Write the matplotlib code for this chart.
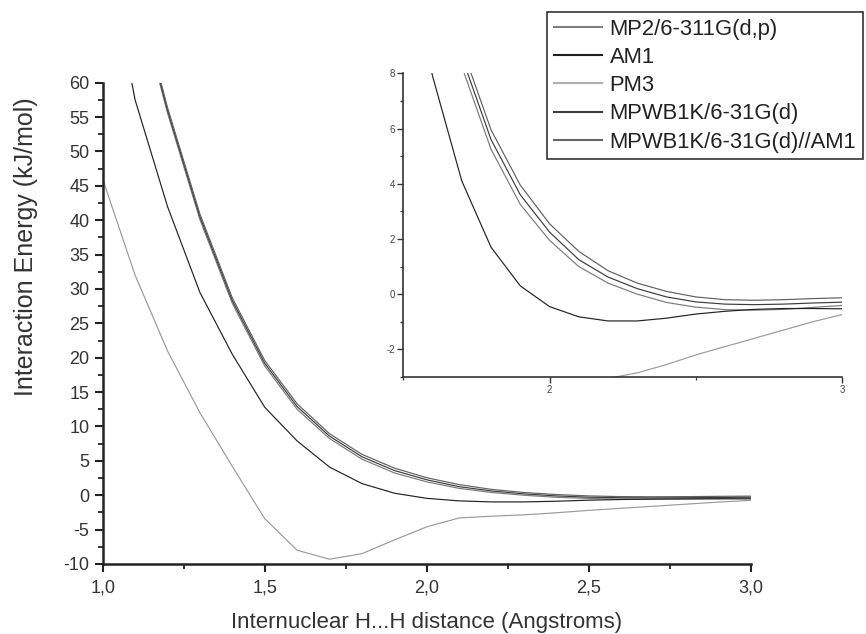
import matplotlib
matplotlib.use("Agg")
import matplotlib.pyplot as plt
from matplotlib.ticker import MultipleLocator, FuncFormatter

plt.rcParams['font.family'] = ['Liberation Sans', 'DejaVu Sans']
plt.rcParams['axes.unicode_minus'] = False

# ---- data ----
x = [1.0, 1.1, 1.2, 1.3, 1.4, 1.5, 1.6, 1.7, 1.8, 1.9, 2.0,
     2.1, 2.2, 2.3, 2.4, 2.5, 2.6, 2.7, 2.8, 2.9, 3.0]

mp2 = [99.0, 73.5, 55.6, 40.1, 27.9, 18.8, 12.5, 8.25, 5.25, 3.25, 1.95,
       1.0, 0.4, 0.0, -0.3, -0.47, -0.56, -0.58, -0.55, -0.48, -0.41]
am1 = [82.0, 57.5, 42.0, 29.5, 20.5, 12.8, 7.9, 4.1, 1.7, 0.3, -0.45,
       -0.82, -0.97, -0.97, -0.87, -0.72, -0.62, -0.55, -0.52, -0.52, -0.53]
pm3 = [46.0, 32.0, 21.0, 12.0, 4.2, -3.4, -8.0, -9.3, -8.5, -6.5, -4.6,
       -3.3, -3.05, -2.85, -2.55, -2.2, -1.9, -1.6, -1.3, -1.0, -0.74]
mpwb1k = [100.0, 74.0, 56.0, 40.5, 28.3, 19.2, 12.9, 8.6, 5.6, 3.6, 2.25,
          1.25, 0.62, 0.2, -0.1, -0.28, -0.36, -0.38, -0.36, -0.32, -0.29]
mpwb1k_am1 = [101.0, 74.5, 56.4, 40.9, 28.7, 19.6, 13.3, 8.95, 5.95, 3.95, 2.55,
              1.55, 0.85, 0.4, 0.1, -0.1, -0.2, -0.22, -0.2, -0.16, -0.13]

labels = ["MP2/6-311G(d,p)", "AM1", "PM3", "MPWB1K/6-31G(d)", "MPWB1K/6-31G(d)//AM1"]
series = [mp2, am1, pm3, mpwb1k, mpwb1k_am1]
colors = ["#7a7a7a", "#222222", "#9a9a9a", "#3c3c3c", "#606060"]
legend_colors = ["#808080", "#1e1e1e", "#b0b0b0", "#3c3c3c", "#666666"]

# ---- figure ----
W, H = 866, 634
fig = plt.figure(figsize=(W / 100, H / 100), dpi=100)

def fx(p):
    return p / W

def fy(p):
    return 1 - p / H

ax = fig.add_axes([fx(102.7), fy(564), fx(750.7) - fx(102.7), fy(82.7) - fy(564)])
for s, c, l in zip(series, colors, labels):
    ax.plot(x, s, color=c, lw=0.85, label=l)
ax.set_xlim(1.0, 3.0)
ax.set_ylim(-10, 60)
ax.spines['top'].set_visible(False)
ax.spines['right'].set_visible(False)
for sp in ['left', 'bottom']:
    ax.spines[sp].set_linewidth(1.8)
    ax.spines[sp].set_color('#222222')
ax.xaxis.set_major_locator(MultipleLocator(0.5))
ax.xaxis.set_minor_locator(MultipleLocator(0.25))
ax.yaxis.set_major_locator(MultipleLocator(5))
ax.yaxis.set_minor_locator(MultipleLocator(2.5))
ax.xaxis.set_major_formatter(FuncFormatter(lambda v, p: f"{v:.1f}".replace('.', ',')))
ax.yaxis.set_major_formatter(FuncFormatter(lambda v, p: f"{int(round(v))}"))
ax.tick_params(which='major', direction='out', length=6, width=1.5, color='#222222',
               labelsize=13, labelcolor='#333333')
ax.tick_params(axis='x', which='major', pad=5)
ax.tick_params(which='minor', direction='out', length=3.5, width=1.3, color='#222222')
ax.set_xlabel("Internuclear H...H distance (Angstroms)", fontsize=16, color='#333333')
ax.set_ylabel("Interaction Energy (kJ/mol)", fontsize=18, color='#333333')
ax.xaxis.set_label_coords(0.5, -0.1)
ax.yaxis.set_label_coords(-0.1, 0.66)

# ---- inset ----
ins = fig.add_axes([fx(403.3), fy(377), fx(842) - fx(403.3), fy(73.3) - fy(377)])
for s, c in zip(series, colors):
    ins.plot(x, s, color=c, lw=0.85)
ins.set_xlim(1.5, 3.0)
ins.set_ylim(-3, 8)
ins.spines['top'].set_visible(False)
ins.spines['right'].set_visible(False)
for sp in ['left', 'bottom']:
    ins.spines[sp].set_linewidth(1.2)
    ins.spines[sp].set_color('#333333')
ins.xaxis.set_major_locator(MultipleLocator(1))
ins.xaxis.set_minor_locator(MultipleLocator(0.5))
ins.yaxis.set_major_locator(MultipleLocator(2))
ins.yaxis.set_minor_locator(MultipleLocator(1))
ins.xaxis.set_major_formatter(FuncFormatter(lambda v, p: f"{int(round(v))}"))
ins.yaxis.set_major_formatter(FuncFormatter(lambda v, p: f"{int(round(v))}"))
ins.tick_params(which='major', direction='out', length=4, width=1.0, color='#333333',
                labelsize=7, labelcolor='#444444', pad=2)
ins.tick_params(which='minor', direction='out', length=2.5, width=0.9, color='#333333')

# ---- legend ----
handles, _ = ax.get_legend_handles_labels()
leg = fig.legend(handles, labels, loc='upper left',
                 bbox_to_anchor=(fx(547), fy(12)), bbox_transform=fig.transFigure,
                 fontsize=15.8, frameon=True, fancybox=False, edgecolor='#333333',
                 framealpha=1, borderaxespad=0, borderpad=0.3, labelspacing=0.33,
                 handlelength=2.2, handletextpad=0.35)
leg.get_frame().set_linewidth(1.2)
for t in leg.get_texts():
    t.set_color('#222222')
for h, c in zip(leg.legend_handles, legend_colors):
    h.set_linewidth(1.5)
    h.set_color(c)

fig.savefig("out.png", dpi=100)
